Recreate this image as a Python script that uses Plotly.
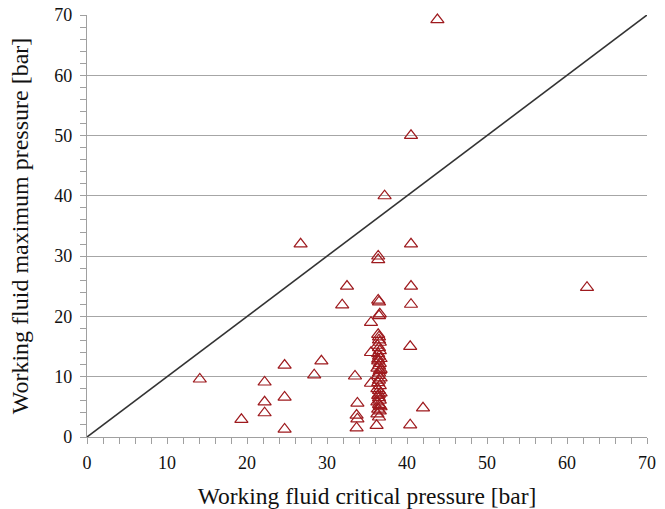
import plotly.graph_objects as go

# Scatter data: working fluid critical pressure [bar] vs maximum pressure [bar]
crit_p = [
    43.8, 40.5, 37.2, 26.7, 40.5, 36.4, 36.4, 32.5, 40.5, 31.9,
    36.4, 36.5, 40.5, 36.6, 36.5, 35.5, 36.4, 36.5, 62.5, 40.4,
    35.5, 29.3, 28.4, 24.7, 14.1, 22.2, 33.5, 35.5, 22.2, 24.7,
    33.8, 42.0, 22.2, 33.7, 33.8, 19.3, 40.4, 36.2, 33.7, 24.7,
    # dense column near 36.5 bar
    36.5, 36.3, 36.6, 36.4, 36.7, 36.5, 36.3, 36.6, 36.5, 36.4,
    36.7, 36.5, 36.3, 36.6, 36.4, 36.5, 36.7, 36.4, 36.5, 36.6,
    36.3, 36.5, 36.6, 36.4, 36.7, 36.5, 36.4, 36.6, 36.5, 36.3,
    36.6, 36.5, 36.4, 36.7, 36.5, 36.6,
]
max_p = [
    69.2, 50.0, 40.0, 32.0, 32.0, 30.0, 29.4, 25.0, 25.0, 21.9,
    22.7, 22.4, 22.0, 20.4, 20.1, 19.0, 17.0, 16.6, 24.8, 15.0,
    14.0, 12.6, 10.3, 11.9, 9.6, 9.1, 10.1, 8.9, 5.8, 6.6,
    5.6, 4.8, 4.0, 3.6, 3.0, 2.9, 2.0, 1.9, 1.5, 1.3,
    3.3, 3.8, 4.3, 4.6, 5.0, 5.4, 5.8, 6.1, 6.5, 6.9,
    7.3, 7.7, 8.0, 8.5, 9.0, 9.4, 9.8, 10.2, 10.6, 11.0,
    11.4, 11.8, 12.2, 12.6, 13.0, 13.4, 13.8, 14.3, 14.8, 15.2,
    15.7, 16.1, 12.9, 11.2, 7.1, 5.2,
]

# Reference line (critical pressure = maximum pressure)
diag_x = [0, 70]
diag_y = [0, 70]

axis_ticks = [0, 10, 20, 30, 40, 50, 60, 70]

serif = "Liberation Serif, Times New Roman, serif"
marker_color = "#9E1A1E"
axis_gray = "#A0A0A0"

fig = go.Figure()
fig.add_trace(go.Scatter(
    x=diag_x, y=diag_y, mode="lines",
    line=dict(color="#333333", width=1.6),
    hoverinfo="skip", showlegend=False, cliponaxis=False,
))
fig.add_trace(go.Scatter(
    x=crit_p, y=max_p, mode="markers",
    marker=dict(symbol="triangle-up-open", size=11.5,
                color=marker_color, line=dict(width=1.2, color=marker_color)),
    showlegend=False, cliponaxis=False,
))

fig.update_layout(
    width=665, height=509,
    margin=dict(l=87, r=18, t=15, b=72, autoexpand=False),
    paper_bgcolor="white", plot_bgcolor="white",
    font=dict(family=serif, color="#111111"),
)
fig.update_xaxes(
    range=[0, 70], tickvals=axis_ticks, ticktext=[str(v) for v in axis_ticks],
    showgrid=False, zeroline=False, automargin=False,
    showline=True, linecolor=axis_gray, linewidth=1.3,
    ticks="outside", ticklen=6, tickcolor=axis_gray,
    minor=dict(dtick=2, ticks="outside", ticklen=6, tickcolor=axis_gray, showgrid=False),
    tickfont=dict(family=serif, size=18, color="#111111"),
    ticklabelstandoff=3,
    title=dict(text="Working fluid critical pressure [bar]",
               font=dict(family=serif, size=23.5, color="#111111"), standoff=17),
)
fig.update_yaxes(
    range=[0, 70], tickvals=axis_ticks, ticktext=[str(v) for v in axis_ticks],
    showgrid=True, gridcolor="#A6A6A6", gridwidth=1.3, zeroline=False, automargin=False,
    showline=True, linecolor=axis_gray, linewidth=1.3,
    ticks="outside", ticklen=6, tickcolor=axis_gray,
    minor=dict(dtick=2, ticks="outside", ticklen=6, tickcolor=axis_gray, showgrid=False),
    tickfont=dict(family=serif, size=18, color="#111111"),
    ticklabelstandoff=4,
    title=dict(text="Working fluid maximum pressure [bar]",
               font=dict(family=serif, size=24, color="#111111"), standoff=18),
)

fig.write_html("out.html")
